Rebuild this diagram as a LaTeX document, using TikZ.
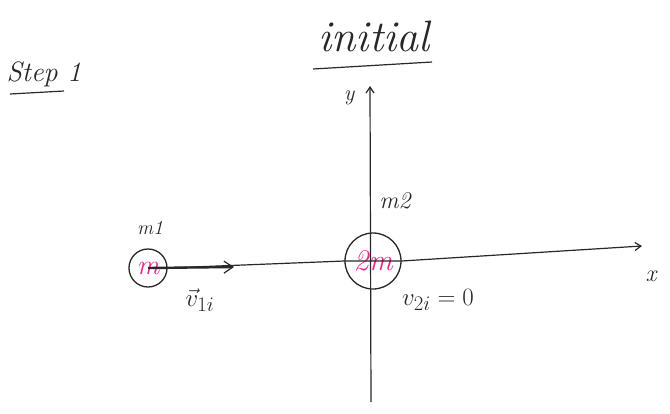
\documentclass[tikz,border=0pt]{standalone}
\usetikzlibrary{arrows.meta}
\definecolor{pinkm}{RGB}{235,40,140}
\definecolor{ink}{RGB}{40,40,40}
\begin{document}
\begin{tikzpicture}[x=1pt,y=-1pt,
  ink/.style={draw=ink,line width=1.2pt},
  mass/.style={circle,draw=ink,line width=1.3pt,inner sep=0pt,text=pinkm},
  lbl/.style={text=ink,inner sep=1pt}]
\useasboundingbox[fill=white] (0,0) rectangle (670,413);
% titles
\node[lbl,font=\fontsize{28}{30}\selectfont\itshape] (step) at (44,74) {Step 1};
\coordinate (su1) at (10,94); \coordinate (su2) at (64,91);
\draw[ink] (su1) -- (su2);
\node[lbl,font=\fontsize{44}{46}\selectfont\itshape] (init) at (374,36) {initial};
\coordinate (iu1) at (313,69); \coordinate (iu2) at (432,62);
\draw[ink] (iu1) -- (iu2);
% axes
\coordinate (ytop) at (370,86); \coordinate (ybot) at (371,402);
\coordinate (xend) at (642,246);
\draw[ink,-{Straight Barb[length=6pt,width=8pt]}] (ybot) -- (ytop);
\node[lbl,font=\fontsize{22}{24}\selectfont\itshape] (ylab) at (349,98) {y};
\node[lbl,font=\fontsize{24}{26}\selectfont\itshape] (xlab) at (651,276) {x};
% masses
\node[mass,minimum size=38pt,font=\fontsize{28}{30}\selectfont\itshape] (m1) at (148,268) {m};
\node[mass,minimum size=56pt,font=\fontsize{30}{32}\selectfont\itshape] (m2) at (373,261) {2m};
\draw[ink,-{Straight Barb[length=6pt,width=8pt]}] (m1.east) -- (m2.west) -- (m2.east) -- (xend);
\coordinate (v1e) at (234,267);
\draw[ink,line width=2.4pt,-{Straight Barb[length=9pt,width=12pt,line width=1.2pt]}] (m1.center) -- (v1e);
% labels
\node[lbl,font=\fontsize{20}{22}\selectfont\itshape] (m1lab) at (150,228) {m1};
\node[lbl,font=\fontsize{24}{26}\selectfont\itshape] (m2lab) at (395,201) {m2};
\node[lbl,font=\fontsize{32}{34}\selectfont] (v1lab) at (200,300) {$\vec{v}_{1i}$};
\node[lbl,font=\fontsize{30}{32}\selectfont] (v2lab) at (438,300) {$v_{2i} = 0$};
\end{tikzpicture}
\end{document}
